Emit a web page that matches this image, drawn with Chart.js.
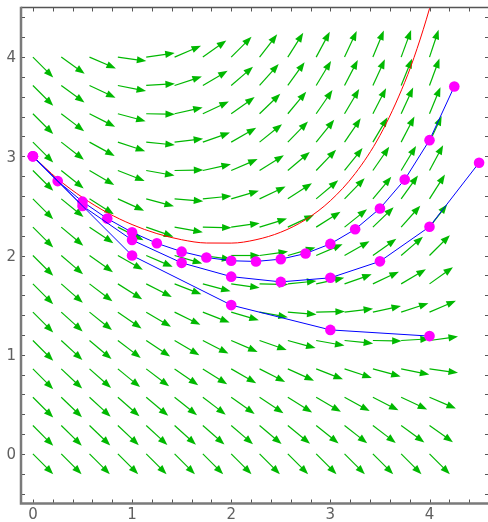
<!DOCTYPE html>
<html><head><meta charset="utf-8">
<script src="https://cdn.jsdelivr.net/npm/chart.js@4/dist/chart.umd.min.js"></script>
<style>html,body{margin:0;padding:0;background:#fff;overflow:hidden;}#wrap{width:490px;height:522px;}</style>
</head><body><div id="wrap"><canvas id="c" width="490" height="522"></canvas></div>
<script>
// ---- data ----
const xTickLabels = [0, 1, 2, 3, 4];
const yTickLabels = [0, 1, 2, 3, 4];

// exact solution curve (red)
const exactX = [0, 0.25, 0.5, 0.75, 1, 1.25, 1.5, 1.75, 2, 2.25, 2.5, 2.75, 3, 3.25, 3.5, 3.75, 3.875, 4, 4.1];
const exactY = [3, 2.772, 2.585, 2.432, 2.312, 2.221, 2.159, 2.126, 2.125, 2.159, 2.235, 2.361, 2.552, 2.826, 3.210, 3.746, 4.087, 4.489, 4.863];

// Euler approximations (blue lines, magenta points)
const eulerAX = [0, 1, 2, 3, 4];
const eulerAY = [3, 2, 1.5, 1.25, 1.1875];
const eulerBX = [0, 0.5, 1, 1.5, 2, 2.5, 3, 3.5, 4, 4.5];
const eulerBY = [3, 2.5, 2.156, 1.926, 1.787, 1.734, 1.775, 1.941, 2.290, 2.935];
const eulerCX = [0, 0.25, 0.5, 0.75, 1, 1.25, 1.5, 1.75, 2, 2.25, 2.5, 2.75, 3, 3.25, 3.5, 3.75, 4, 4.25];
const eulerCY = [3, 2.75, 2.543, 2.372, 2.234, 2.123, 2.039, 1.980, 1.947, 1.940, 1.963, 2.020, 2.117, 2.264, 2.474, 2.765, 3.163, 3.704];

// direction field: arrow tails and slopes (rows = fieldY, columns = fieldX)
const fieldX = [0, 0.286, 0.571, 0.857, 1.143, 1.429, 1.714, 2, 2.286, 2.571, 2.857, 3.143, 3.429, 3.714, 4];
const fieldY = [0, 0.286, 0.571, 0.857, 1.143, 1.429, 1.714, 2, 2.286, 2.571, 2.857, 3.143, 3.429, 3.714, 4];
const fieldSlopes = [
 [-1,-1,-1,-1,-1,-1,-1,-1,-1,-1,-1,-1,-1,-1,-1],
 [-1,-.98,-.96,-.94,-.92,-.90,-.88,-.86,-.84,-.82,-.80,-.78,-.76,-.73,-.71],
 [-1,-.96,-.92,-.88,-.84,-.80,-.76,-.71,-.67,-.63,-.59,-.55,-.51,-.47,-.43],
 [-1,-.94,-.88,-.82,-.76,-.69,-.63,-.57,-.51,-.45,-.39,-.33,-.27,-.20,-.14],
 [-1,-.92,-.84,-.76,-.67,-.59,-.51,-.43,-.35,-.27,-.18,-.10,-.02,.06,.14],
 [-1,-.90,-.80,-.69,-.59,-.49,-.39,-.29,-.18,-.08,.02,.12,.22,.33,.43],
 [-1,-.88,-.76,-.63,-.51,-.39,-.27,-.14,-.02,.10,.22,.35,.47,.59,.71],
 [-1,-.86,-.71,-.57,-.43,-.29,-.14,0,.14,.29,.43,.57,.71,.86,1],
 [-1,-.84,-.67,-.51,-.35,-.18,-.02,.14,.31,.47,.63,.80,.96,1.12,1.29],
 [-1,-.82,-.63,-.45,-.27,-.08,.10,.29,.47,.65,.84,1.02,1.20,1.39,1.57],
 [-1,-.80,-.59,-.39,-.18,.02,.22,.43,.63,.84,1.04,1.24,1.45,1.65,1.86],
 [-1,-.78,-.55,-.33,-.10,.12,.35,.57,.80,1.02,1.24,1.47,1.69,1.92,2.14],
 [-1,-.76,-.51,-.27,-.02,.22,.47,.71,.96,1.20,1.45,1.69,1.94,2.18,2.43],
 [-1,-.73,-.47,-.20,.06,.33,.59,.86,1.12,1.39,1.65,1.92,2.18,2.45,2.71],
 [-1,-.71,-.43,-.14,.14,.43,.71,1,1.29,1.57,1.86,2.14,2.43,2.71,3]
];

const toPts = (xs, ys) => xs.map((x, i) => ({x: x, y: ys[i]}));

const fieldPlugin = {
  id: 'field',
  beforeDatasetsDraw(chart) {
    const ctx = chart.ctx, xs = chart.scales.x, ys = chart.scales.y;
    const kx = xs.getPixelForValue(1) - xs.getPixelForValue(0);
    const ky = ys.getPixelForValue(0) - ys.getPixelForValue(1);
    const L = 0.29 * kx, headL = 9.5, headW = 3.6;
    ctx.save();
    ctx.strokeStyle = '#00b800';
    ctx.fillStyle = '#00b800';
    ctx.lineWidth = 1.2;
    fieldY.forEach((yv, j) => {
      fieldX.forEach((xv, i) => {
        const s = fieldSlopes[j][i];
        const px = xs.getPixelForValue(xv), py = ys.getPixelForValue(yv);
        let dx = kx, dy = -ky * s;
        const n = Math.hypot(dx, dy); dx /= n; dy /= n;
        const tx = px + dx * L, ty = py + dy * L;
        const bx = tx - dx * headL, by = ty - dy * headL;
        ctx.beginPath(); ctx.moveTo(px, py); ctx.lineTo(bx + dx * 2, by + dy * 2); ctx.stroke();
        ctx.beginPath();
        ctx.moveTo(tx, ty);
        ctx.lineTo(bx - dy * headW, by + dx * headW);
        ctx.lineTo(bx + dy * headW, by - dx * headW);
        ctx.closePath(); ctx.fill();
      });
    });
    ctx.restore();
  }
};

const framePlugin = {
  id: 'frame',
  afterDraw(chart) {
    const ctx = chart.ctx, a = chart.chartArea, xs = chart.scales.x, ys = chart.scales.y;
    ctx.save();
    ctx.strokeStyle = '#555';
    ctx.lineWidth = 1;
    for (let k = -2; k <= 23; k++) {
      const v = k * 0.2;
      if (v >= xs.min && v <= xs.max) {
        const p = Math.round(xs.getPixelForValue(v)) + 0.5;
        ctx.beginPath(); ctx.moveTo(p, a.bottom); ctx.lineTo(p, a.bottom - 4); ctx.stroke();
        ctx.beginPath(); ctx.moveTo(p, a.top); ctx.lineTo(p, a.top + 4); ctx.stroke();
      }
      if (v >= ys.min && v <= ys.max) {
        const p = Math.round(ys.getPixelForValue(v)) + 0.5;
        ctx.beginPath(); ctx.moveTo(a.left, p); ctx.lineTo(a.left + 4, p); ctx.stroke();
        ctx.beginPath(); ctx.moveTo(a.right, p); ctx.lineTo(a.right - 4, p); ctx.stroke();
      }
    }
    ctx.strokeStyle = '#555';
    ctx.lineWidth = 1.3;
    ctx.beginPath(); ctx.moveTo(a.left, a.top); ctx.lineTo(a.right, a.top); ctx.stroke();
    ctx.strokeStyle = '#7a7a7a';
    ctx.lineWidth = 2.5;
    ctx.beginPath(); ctx.moveTo(a.left, a.top - 0.7); ctx.lineTo(a.left, a.bottom); ctx.lineTo(a.right, a.bottom); ctx.stroke();
    ctx.restore();
  }
};

const lineDs = (xs, ys) => ({
  data: toPts(xs, ys), showLine: true, borderColor: '#0000ff', borderWidth: 1,
  pointRadius: 5.3, pointBackgroundColor: '#ff00ff', pointBorderWidth: 0, pointBorderColor: '#ff00ff',
  tension: 0, order: 1
});

new Chart(document.getElementById('c'), {
  type: 'scatter',
  data: {
    datasets: [
      {data: toPts(exactX, exactY), showLine: true, borderColor: '#ff0000', borderWidth: 1,
       pointRadius: 0, cubicInterpolationMode: 'monotone', order: 2},
      lineDs(eulerAX, eulerAY),
      lineDs(eulerBX, eulerBY),
      lineDs(eulerCX, eulerCY)
    ]
  },
  options: {
    responsive: false, animation: false, devicePixelRatio: 1,
    layout: {autoPadding: false, padding: {top: 7.5, right: 1, left: 0, bottom: 0}},
    plugins: {legend: {display: false}, tooltip: {enabled: false}},
    scales: {
      x: {
        type: 'linear', min: -0.12, max: 4.6,
        grid: {display: false, drawTicks: false}, border: {display: false},
        afterBuildTicks: s => { s.ticks = xTickLabels.map(v => ({value: v})); },
        afterFit: s => { s.height = 18.5; s.paddingLeft = 0; s.paddingRight = 0; },
        ticks: {padding: 3, color: '#606060', font: {family: 'DejaVu Sans', size: 15}, maxRotation: 0, autoSkip: false}
      },
      y: {
        type: 'linear', min: -0.5, max: 4.5,
        grid: {display: false, drawTicks: false}, border: {display: false},
        afterBuildTicks: s => { s.ticks = yTickLabels.map(v => ({value: v})); },
        afterFit: s => { s.width = 21; s.paddingTop = 0; s.paddingBottom = 0; },
        ticks: {padding: 5, labelOffset: 1.5, color: '#606060', font: {family: 'DejaVu Sans', size: 15}, autoSkip: false}
      }
    }
  },
  plugins: [fieldPlugin, framePlugin]
});
</script></body></html>
